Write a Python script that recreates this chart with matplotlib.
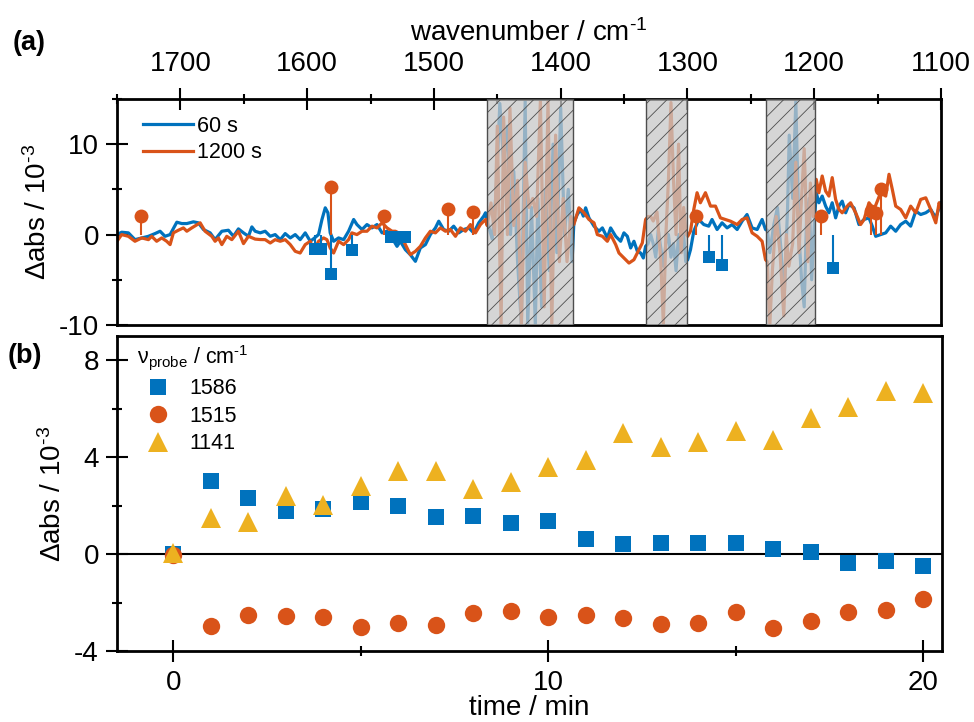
import numpy as np
import matplotlib.pyplot as plt
from matplotlib.ticker import MultipleLocator

plt.rcParams['font.family'] = ['Liberation Sans', 'DejaVu Sans']
plt.rcParams['mathtext.fontset'] = 'custom'
plt.rcParams['mathtext.rm'] = 'Liberation Sans'
plt.rcParams['mathtext.it'] = 'Liberation Sans:italic'
plt.rcParams['mathtext.bf'] = 'Liberation Sans:bold'
plt.rcParams['axes.unicode_minus'] = False
plt.rcParams['hatch.linewidth'] = 0.6

BLUE = '#0072BD'
ORANGE = '#D95319'
YELLOW = '#EDB120'

# ============================ #
# === (a) difference spectra === #
# ============================ #

wn_60 = [1750.0, 1746.3, 1741.0, 1735.8, 1730.5, 1725.2, 1720.0, 1716.0, 1712.1, 1708.1, 1702.8, 1698.9, 1694.9,
         1689.7, 1685.8, 1681.8, 1676.5, 1672.6, 1667.3, 1662.1, 1658.1, 1654.2, 1650.2, 1646.3, 1643.6,
         1641.0, 1637.0, 1633.1, 1629.1, 1625.2, 1621.2, 1617.3, 1613.3, 1609.4, 1605.5, 1601.5, 1597.5, 1594.1,
         1591.0, 1588.3, 1585.7, 1583.6, 1581.8, 1579.1, 1575.2, 1571.2, 1567.3, 1563.3, 1560.7, 1556.7, 1552.8,
         1548.8, 1544.9, 1540.9, 1537.0, 1533.0, 1529.1,
         1526.5, 1522.5, 1518.6, 1514.6, 1510.7, 1506.7, 1502.8, 1498.8, 1496.2, 1492.3, 1488.3, 1484.4, 1480.4,
         1476.5, 1472.5, 1468.6, 1464.6, 1460.7, 1459.3,
         1458, 1454, 1451, 1448, 1445, 1442, 1439.6, 1437, 1434, 1431, 1428, 1426, 1423, 1420, 1418, 1415, 1412,
         1409, 1406, 1403, 1400, 1397, 1394, 1391,
         1389.6, 1386.9, 1384.3, 1382.1, 1380.3, 1377.7, 1373.7, 1369.8, 1367.1, 1363.2, 1360.6, 1356.6, 1352.7,
         1350.1, 1347.4, 1344.8, 1342.2, 1339.5, 1336.9, 1334.8, 1333.0,
         1331, 1329, 1327, 1325, 1323, 1321, 1319, 1317, 1315, 1313, 1311, 1309, 1307, 1305, 1303, 1301.3,
         1299.8, 1297.6, 1295.0, 1291.1, 1287.1, 1283.2, 1280.6, 1276.6, 1272.7, 1268.7, 1264.8, 1260.8, 1256.9,
         1253.0, 1249.0, 1245.0, 1241.1, 1238.4,
         1237, 1235, 1232, 1229, 1226, 1223.7, 1221, 1219.7, 1217, 1214.5, 1212, 1210, 1207.9, 1206, 1203.9, 1202, 1200,
         1198.4, 1196.3, 1193.7, 1191.0, 1188.4, 1185.8, 1183.1, 1180.5, 1177.9, 1175.2, 1172.6, 1168.6, 1164.7,
         1160.7, 1156.8, 1154.2, 1151.5, 1147.6, 1143.6, 1139.7, 1135.7, 1131.8, 1127.8, 1123.9, 1119.9, 1116.0,
         1112.0, 1108.1, 1104.1, 1100.2]
dabs_60 = [0.0, 0.26, 0.19, -0.56, -0.37, -0.19, 0.11, 0.37, -0.19, 0.0, 1.37, 1.22, 1.22,
           1.41, 1.30, 0.56, 0.19, -0.56, 0.37, 0.48, -0.19, 0.63, 0.19, -0.19, 0.85,
           0.37, 0.19, 0.37, -0.19, 0.0, -0.56, 0.11, -0.37, 0.0, -0.56, 0.19, -0.74, -0.37,
           0.0, 1.67, 2.96, 2.41, 0.19, -0.74, -0.37, -0.56, 0.37, 1.67, 1.11, 0.56, 1.11,
           0.74, 1.11, 0.19, 0.37, -0.37, -1.30,
           -0.74, -1.67, -2.22, -2.96, -1.48, -1.11, 0.0, 0.74, 1.48, 0.56, 0.37, 0.93, 0.19,
           0.56, 0.74, 0.19, 1.30, 2.04, 2.41,
           1.5, -0.5, 4.5, 14.5, 8, 12, 0, 7, -3, -10, 14.8, -10, 3, -10, 4, -8, 5,
           -4, 10, -2, 14, 0, 5, -3,
           1.30, 2.22, 2.78, 2.04, 2.96, 1.85, 0.93, 0.37, 0.74, -0.37, 0.74, -0.19, -0.74,
           0.19, -0.19, -1.48, -0.74, -1.85, -2.04, -2.59, -1.30,
           -1.0, 0, -1.0, -2.5, 0.5, -1.5, -3.5, -1.0, 0, -2.5, -1.0, -4.0, 0, -2.0, 0, -3.0,
           -2.78, -1.67, 0.37, 1.67, 1.11, 0.93, 1.67, 0.56, 1.30, 0.74, 1.11, 0.56, 1.48,
           2.22, 0.74, 0.56, 1.67, 0.56,
           0.5, -2, 1, 3, -2, -7, 3, 11, 4, 14.8, 0, -5, -8, 2, 4, -5, 1.0,
           4.63, 3.52, 4.26, 3.15, 2.41, 3.52, 1.85, 3.15, 3.70, 2.41, 3.33, 2.96, 1.11,
           1.67, 1.85, 0.93, -0.19, 0.0, 0.19, 0.93, 0.37, 1.11, 1.48, 0.93, 2.59, 2.22,
           2.41, 2.78, 1.85, 3.52]

wn_1200 = [1750.0, 1746.3, 1741.0, 1735.8, 1730.5, 1725.2, 1722.6, 1718.7, 1714.7, 1710.8, 1708.1, 1705.5, 1701.6,
           1697.6, 1694.9, 1691.0, 1684.4, 1680.5, 1675.2, 1672.6, 1670.0, 1667.3, 1663.4, 1659.4, 1654.2, 1650.2,
           1646.3,
           1641.0, 1637.0, 1633.1, 1629.1, 1625.2, 1621.2, 1617.3, 1613.3, 1609.4, 1605.5, 1601.5, 1597.5, 1594.9,
           1591.0, 1587.0, 1584.4, 1581.8, 1579.1, 1575.2, 1571.2, 1567.3, 1564.7, 1560.7, 1556.7, 1552.8, 1548.8,
           1544.9, 1540.9, 1537.0, 1533.0, 1530.4,
           1526.5, 1522.5, 1518.6, 1514.6, 1510.7, 1506.7, 1502.8, 1498.8, 1494.9, 1490.9, 1487.0, 1483.0, 1479.1,
           1475.1, 1471.2, 1467.2, 1463.3, 1459.3,
           1458, 1455, 1452, 1450, 1447, 1445, 1442, 1440, 1437, 1434, 1431, 1428, 1425, 1422, 1419, 1416, 1413,
           1410, 1407, 1404, 1401, 1398, 1395, 1392,
           1389.6, 1385.6, 1381.6, 1377.7, 1373.7, 1371.1, 1367.1, 1363.2, 1360.6, 1356.6, 1354.0, 1350.1, 1346.1,
           1342.2, 1338.2, 1335.6, 1333.0,
           1331, 1329, 1327, 1324, 1321, 1319, 1317, 1315, 1313, 1311, 1309, 1307, 1305, 1303, 1301,
           1299.8, 1297.6, 1295.0, 1292.4, 1289.8, 1285.8, 1281.8, 1277.9, 1274.0, 1270.0, 1266.0, 1260.8, 1256.9,
           1253.0, 1249.0, 1245.0, 1241.1, 1238.4,
           1237, 1235, 1233, 1230, 1227, 1224, 1222, 1220, 1217, 1214.5, 1212, 1210, 1207.9, 1205, 1203, 1201,
           1198.4, 1196.3, 1193.7, 1191.0, 1188.4, 1185.8, 1183.1, 1180.5, 1177.9, 1173.9, 1171.3, 1167.3, 1163.4,
           1160.7, 1156.8, 1152.8, 1147.6, 1143.6, 1141.0, 1138.4, 1135.7, 1131.8, 1127.8, 1123.9, 1119.9, 1116.0,
           1112.0, 1108.1, 1104.1, 1101.5, 1100]
dabs_1200 = [-0.74, 0.0, -0.19, -0.74, -0.37, -0.56, -0.19, -0.74, -0.37, -0.74, -1.11, 0.19, 0.48,
             0.74, 0.37, 0.74, 1.30, 0.37, -0.19, -0.74, -0.37, -1.11, -0.19, -0.56, 0.37, -1.0,
             -0.19,
             -0.5, -0.55, -0.56, -0.93, -0.56, -0.74, -0.56, -1.11, -1.85, -2.04, -1.11, -0.74, -1.85,
             -0.74, -0.37, -0.56, -1.48, -2.04, -0.74, -1.11, -0.56, 0.19, 0.0, 0.37, 0.37, 0.93,
             0.74, 1.30, 0.74, 0.37, 0.37,
             0.1, -1.11, -2.22, -1.85, -1.30, -0.37, 0.37, 0.19, 0.74, 0.37, 0.56, -0.19, 0.74,
             0.37, 1.11, 0.19, 1.11, 1.67,
             1.0, 3.5, 0, 12, -10, 13, 0, 14, 1, 6, -10, 8, 3, 4, 2, 14.8, -8,
             14.8, -10, 11, -3, 4, -3, 2,
             1.11, 2.96, 2.41, 1.67, 1.30, 0.0, -0.19, -0.74, 0.0, -1.11, -2.04, -2.59, -3.15,
             -2.78, -1.67, -0.93, 1.67,
             2.0, 2.0, 1.5, 2.5, -3, -10, 0, 6, 14.6, 6, 0, 10, -2, 3, 0,
             -0.19, 0.37, 2.78, 4.63, 3.52, 4.63, 3.15, 3.15, 1.85, 1.67, 1.48, 1.11, 1.67,
             1.85, 0.19, -0.19, -0.74, -2.78,
             -3, -10, -4, 2, -2, -9, 0, -3.5, -1, 8, -2, 4, 9.5, -3, 5.7, 2,
             6.11, 4.63, 6.48, 4.81, 4.26, 6.30, 3.89, 2.78, 2.41, 3.15, 3.52, 2.41, 1.11,
             1.67, 3.52, 2.78, 4.63, 4.26, 6.67, 5.0, 3.15, 2.78, 1.85, 3.15, 2.41, 3.89,
             4.07, 2.78, 1.30, 3.52, 3.0]

# masked (saturated) regions, cm-1
masks = [(1458.5, 1390.0), (1332.5, 1300.0), (1237.8, 1199.5)]

# stem markers
circ_wn = [1731, 1581, 1539, 1489, 1469, 1293, 1195, 1155, 1151, 1147]
circ_val = [2.0, 5.3, 2.1, 2.8, 2.5, 2.0, 2.0, 2.6, 2.4, 5.0]
sq_wn = [1594, 1589, 1581, 1565, 1534, 1529, 1523, 1283, 1273, 1185.5]
sq_val = [-1.6, -1.6, -4.4, -1.7, -0.3, -0.3, -0.3, -2.5, -3.4, -3.7]

# ======================== #
# === (b) kinetic traces === #
# ======================== #

time_min = np.arange(0, 21)
probe_1586 = [0.0, 3.0, 2.31, 1.79, 1.85, 2.17, 2.0, 1.54, 1.58, 1.27, 1.35, 0.62, 0.41, 0.47, 0.47,
              0.44, 0.19, 0.07, -0.36, -0.30, -0.48]
probe_1515 = [-0.05, -2.96, -2.52, -2.56, -2.59, -3.0, -2.85, -2.93, -2.45, -2.34, -2.59, -2.52, -2.62,
              -2.87, -2.83, -2.38, -3.07, -2.78, -2.38, -2.31, -1.86]
probe_1141 = [0.05, 1.51, 1.33, 2.41, 2.02, 2.79, 3.44, 3.41, 2.68, 2.96, 3.58, 3.88, 5.0, 4.41, 4.64,
              5.1, 4.71, 5.62, 6.06, 6.75, 6.65]

FS = 20
YLABEL = 'Δabs / 10$^{\\text{-3}}$'

fig = plt.figure(figsize=(9.74, 7.22), dpi=100)
ax1 = fig.add_axes([0.1201, 0.5499, 0.846, 0.313])
ax2 = fig.add_axes([0.1201, 0.0983, 0.847, 0.4363])

# --- top panel ---
l60, = ax1.plot(wn_60, dabs_60, color=BLUE, lw=2.3, solid_joinstyle='round', label='60 s')
l1200, = ax1.plot(wn_1200, dabs_1200, color=ORANGE, lw=2.3, solid_joinstyle='round', label='1200 s')

for hi, lo in masks:
    ax1.axvspan(lo, hi, facecolor='#c8c8c8', alpha=0.75, edgecolor='none', zorder=3)
    ax1.axvspan(lo, hi, facecolor='none', edgecolor='0.3', hatch='//', lw=1.0, zorder=3.1)

ax1.vlines(circ_wn, 0, circ_val, color=ORANGE, lw=1.5, zorder=4)
ax1.plot(circ_wn, circ_val, 'o', color=ORANGE, ms=10, mew=0, zorder=5)
ax1.vlines(sq_wn, 0, sq_val, color=BLUE, lw=1.5, zorder=4)
ax1.plot(sq_wn, sq_val, 's', color=BLUE, ms=8, mew=0, zorder=5)

ax1.set_xlim(1750, 1100)
ax1.set_ylim(-10, 15)
ax1.xaxis.tick_top()
ax1.xaxis.set_label_position('top')
ax1.xaxis.set_major_locator(MultipleLocator(100))
ax1.xaxis.set_minor_locator(MultipleLocator(50))
ax1.yaxis.set_major_locator(MultipleLocator(10))
ax1.yaxis.set_minor_locator(MultipleLocator(5))
ax1.tick_params(which='both', direction='inout', width=1.5, top=True, bottom=False,
                left=True, right=False, labeltop=True, labelbottom=False, labelsize=FS)
ax1.tick_params(which='major', length=16)
ax1.tick_params(which='minor', length=7)
ax1.tick_params(axis='x', pad=8)
ax1.tick_params(axis='y', pad=5)
ax1.set_xlabel('wavenumber / cm$^{\\text{-1}}$', fontsize=FS, labelpad=7)
ax1.set_ylabel(YLABEL, fontsize=FS, labelpad=5)
ax1.legend(handles=[l60, l1200], loc='upper left', bbox_to_anchor=(0.032, 0.925), frameon=False,
           fontsize=15.5, handlelength=2.3, handletextpad=0.2, labelspacing=0.25,
           borderpad=0, borderaxespad=0)

# --- bottom panel ---
ax2.axhline(0, color='k', lw=1.5, zorder=1)
ax2.plot(time_min, probe_1586, 's', color=BLUE, ms=11.5, mew=0, label='1586')
ax2.plot(time_min, probe_1515, 'o', color=ORANGE, ms=12.5, mew=0, label='1515')
ax2.plot(time_min, probe_1141, '^', color=YELLOW, ms=14.5, mew=0, label='1141')

ax2.set_xlim(-1.5, 20.5)
ax2.set_ylim(-4, 9)
ax2.xaxis.set_major_locator(MultipleLocator(10))
ax2.xaxis.set_minor_locator(MultipleLocator(5))
ax2.yaxis.set_major_locator(MultipleLocator(4))
ax2.yaxis.set_minor_locator(MultipleLocator(2))
ax2.tick_params(which='both', direction='inout', width=1.5, top=False, right=False, labelsize=FS)
ax2.tick_params(which='major', length=16)
ax2.tick_params(which='minor', length=7)
ax2.tick_params(axis='x', pad=6)
ax2.tick_params(axis='y', pad=5)
ax2.set_xlabel('time / min', fontsize=FS, labelpad=-1)
ax2.set_ylabel(YLABEL, fontsize=FS, labelpad=5)
ax2.legend(title='ν$_{\\rm probe}$ / cm$^{\\text{-1}}$', loc='upper left', bbox_to_anchor=(0.024, 0.978),
           frameon=False, fontsize=15.5, title_fontsize=15.5, handlelength=1.95, handletextpad=0.5,
           labelspacing=0.3, borderpad=0, borderaxespad=0, numpoints=1, alignment='left')

for ax in (ax1, ax2):
    for s in ax.spines.values():
        s.set_linewidth(2)

fig.text(13/974, 1 - 50/722, '(a)', fontsize=19.5, fontweight='bold', va='baseline')
fig.text(8/974, 1 - 363/722, '(b)', fontsize=19.5, fontweight='bold', va='baseline')

fig.savefig('out.png', dpi=100)
